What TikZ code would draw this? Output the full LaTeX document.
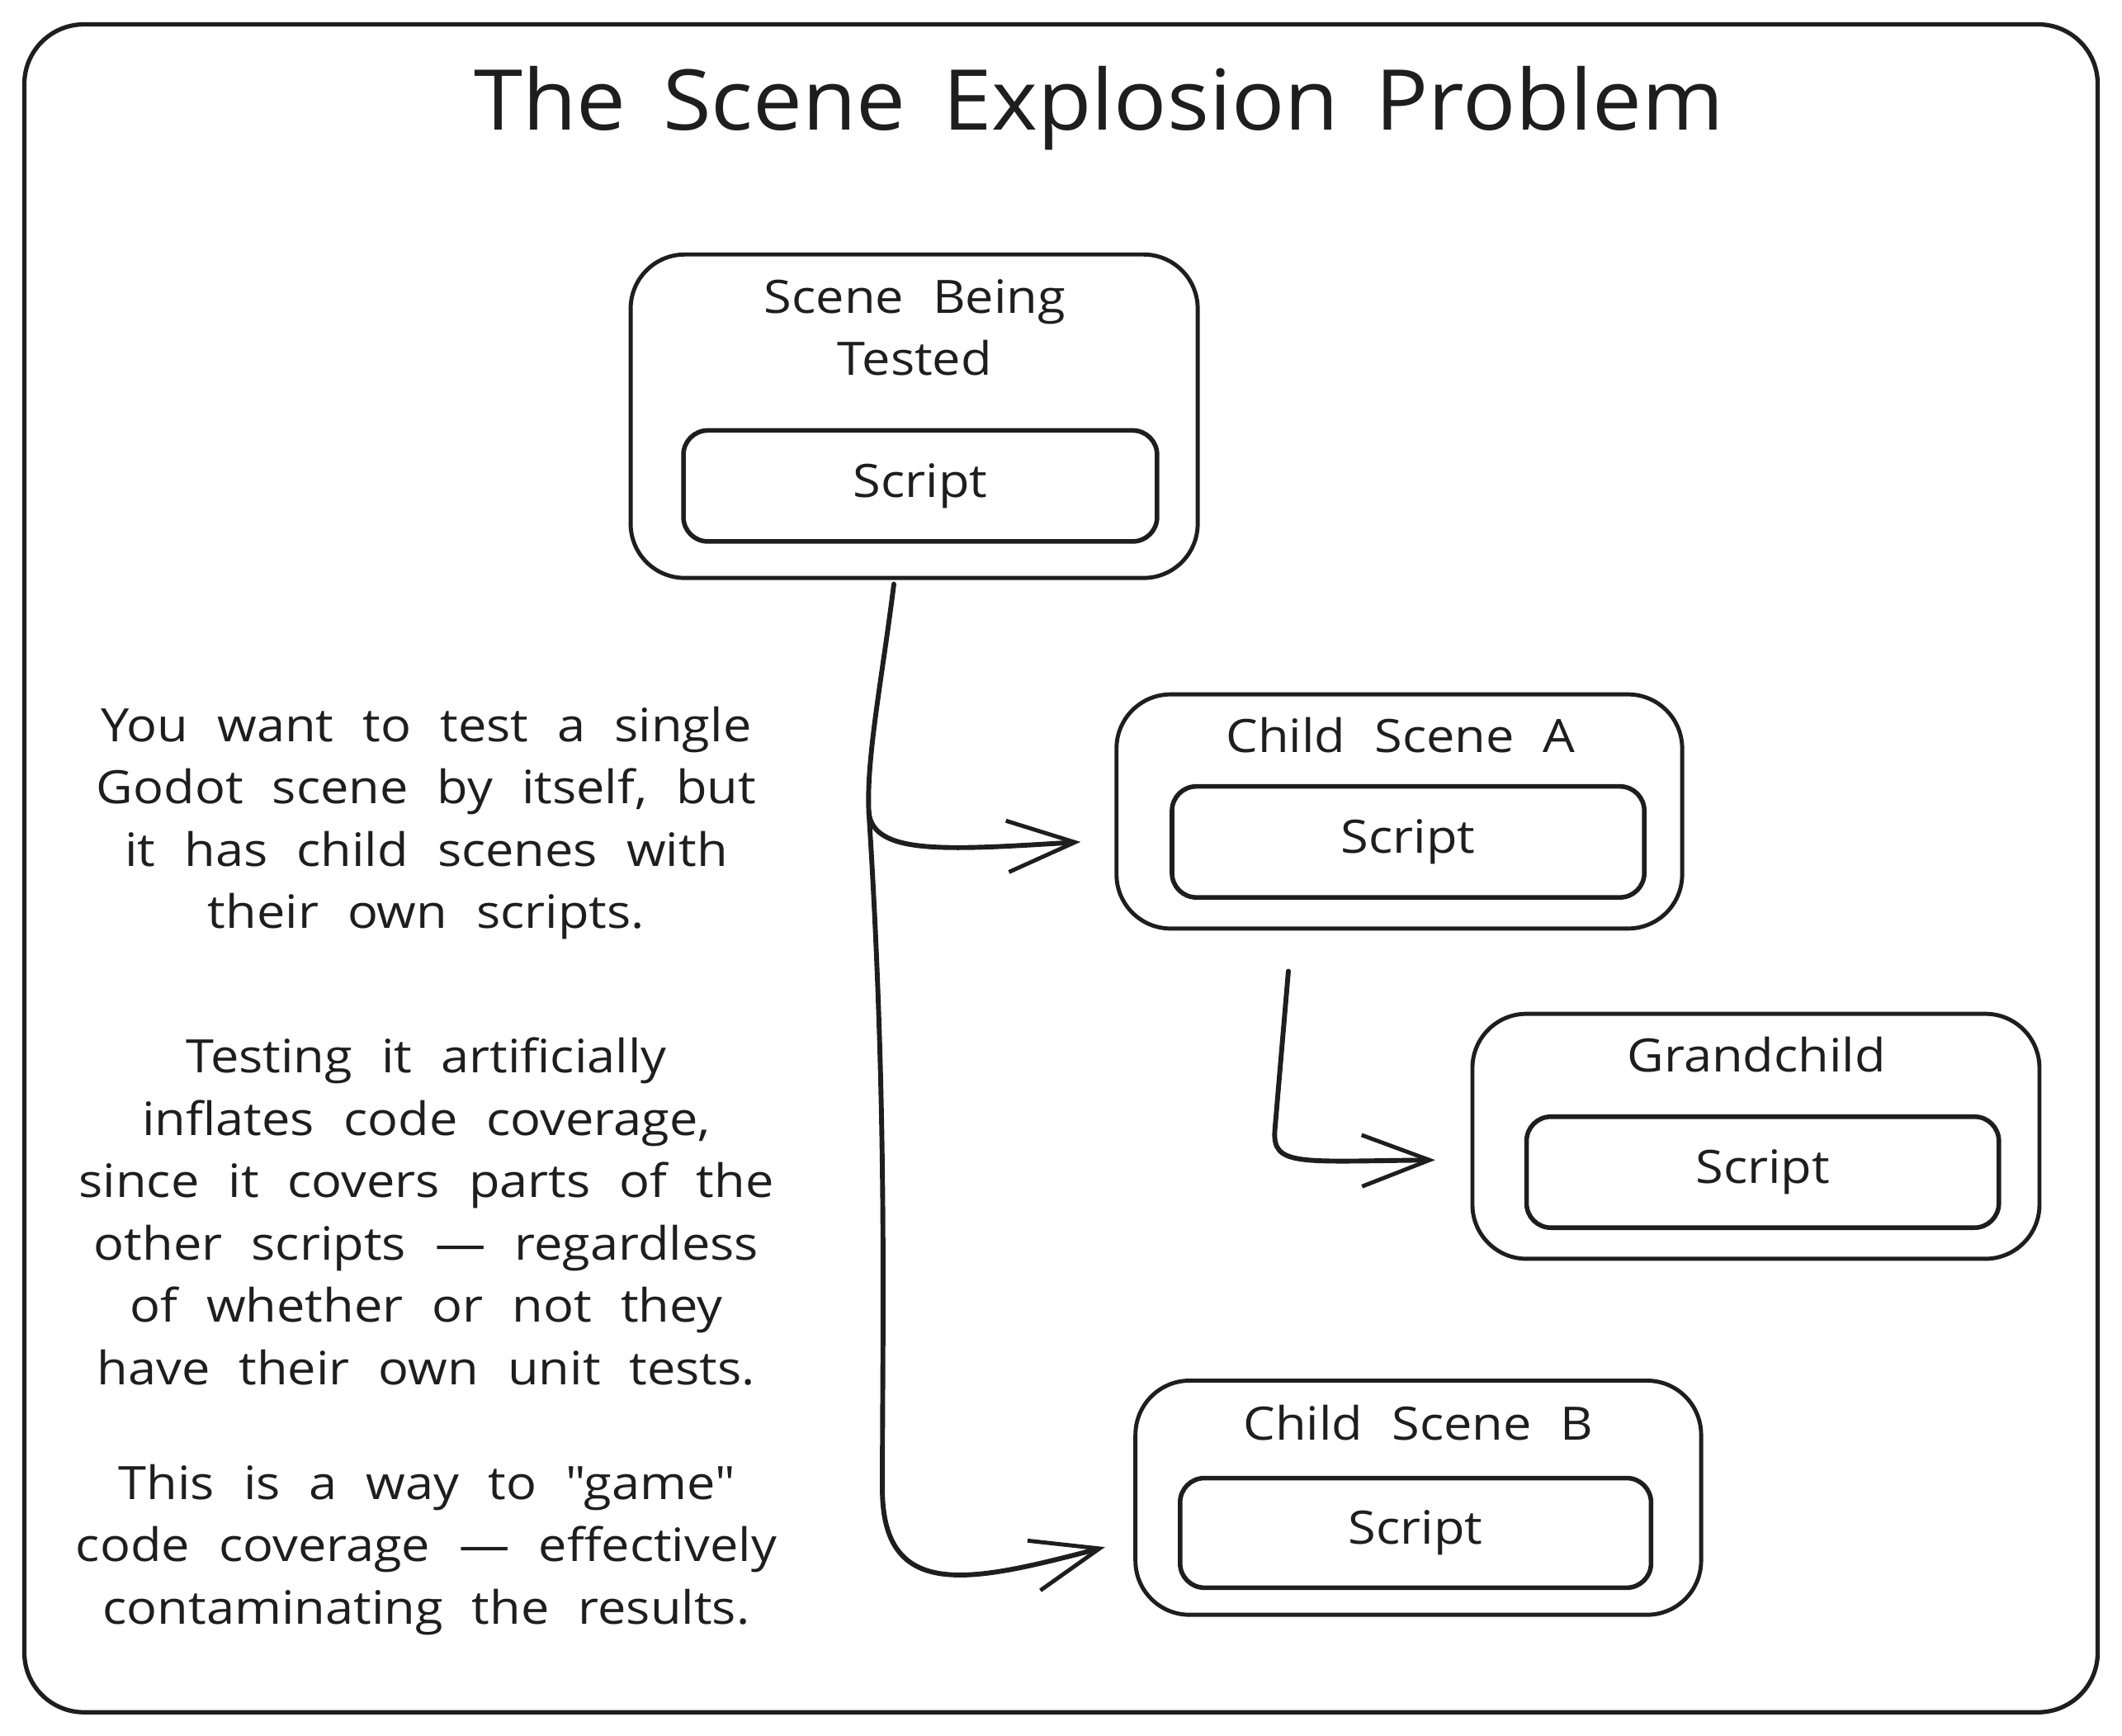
\documentclass[tikz,border=0pt]{standalone}
\usepackage{fontspec}
\setmainfont{Open Sans}[FakeStretch=1.1, WordSpace=2.2]
\newfontfamily\titlefam{Open Sans}[FakeStretch=1.05, WordSpace=1.6]
\usepackage{tikz}
\usetikzlibrary{arrows.meta,calc}
\definecolor{ink}{HTML}{1E1E1E}
\newcommand{\handfont}{\fontsize{17}{23}\selectfont}
\newcommand{\titlefont}{\titlefam\fontsize{31}{36}\selectfont}
\tikzset{
  scenebox/.style={draw=ink, line width=1.5pt, rounded corners=20pt,
    minimum width=209.5pt, minimum height=86.5pt, inner sep=0pt},
  scriptbox/.style={draw=ink, line width=1.7pt, rounded corners=9pt,
    minimum width=174.5pt, minimum height=41pt, inner sep=0pt,
    font=\handfont, text=ink},
  boxtitle/.style={font=\handfont, text=ink, align=center, inner sep=0pt},
  note/.style={font=\handfont, text=ink, align=center, inner sep=0pt},
  link/.style={draw=ink, line width=1.8pt, line cap=round,
    -{Straight Barb[length=25pt,width=19pt,line width=1.5pt]}},
}

\begin{document}
\begin{tikzpicture}[x=0.5pt,y=-0.5pt]
\useasboundingbox (0,0) rectangle (1568,1282);
% frame and title:
\draw[ink, line width=1.6pt, rounded corners=22pt] (18,18) rectangle (1550,1265);
\node[font=\titlefont, text=ink] (title) at (812,80) {The Scene Explosion Problem};
% scenes:
\node[scenebox, minimum height=119.5pt] (top) at (675.5,307.5) {};
\node[boxtitle] (toplbl) at (676,242) {Scene Being\\Tested};
\node[scriptbox, minimum width=175pt] (topscript) at (680,359) {Script};
\node[scenebox, minimum width=209pt] (childA) at (1034,599.5) {};
\node[boxtitle] (childAlbl) at (1035,543) {Child Scene A};
\node[scriptbox] (childAscript) at (1040.5,622) {Script};
\node[scenebox, minimum height=90.5pt] (grand) at (1297.5,839.5) {};
\node[boxtitle] (grandlbl) at (1298,779) {Grandchild};
\node[scriptbox] (grandscript) at (1302.5,866) {Script};
\node[scenebox, minimum width=209pt] (childB) at (1048,1106.5) {};
\node[boxtitle] (childBlbl) at (1048,1051) {Child Scene B};
\node[scriptbox, minimum width=174pt, minimum height=40.5pt] (childBscript) at (1046,1132.5) {Script};
% connectors:
\coordinate (fork) at (642,600);
\coordinate (bend) at (942,835);
\draw[ink, line width=1.8pt, line cap=round] ($(top.south)+(-15,3)$) .. controls (652,500) and (640,560) .. (fork);
\draw[link] (fork) .. controls (645,632) and (700,628) .. ($(childA.west)+(-25,22.5)$);
\draw[link] (fork) .. controls (656,820) and (652,980) .. (652,1100)
  .. controls (652,1185) and (720,1168) .. ($(childB.west)+(-21,36.5)$);
\draw[link] ($(childA.south)+(-82,30)$) -- (bend)
  .. controls (940,862) and (960,858) .. ($(grand.west)+(-26,17.5)$);
% notes:
\node[note] (para1) at (315,608) {You want to test a single\\Godot scene by itself, but\\it has child scenes with\\their own scripts.};
\node[note] (para2) at (315,895) {Testing it artificially\\inflates code coverage,\\since it covers parts of the\\other scripts — regardless\\of whether or not they\\have their own unit tests.};
\node[note] (para3) at (315,1145) {This is a way to \textquotedbl game\textquotedbl\\code coverage — effectively\\contaminating the results.};
\end{tikzpicture}
\end{document}
